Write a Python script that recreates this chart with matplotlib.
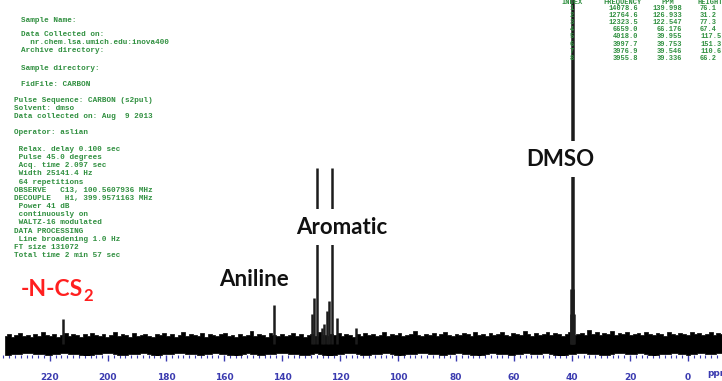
import numpy as np
import matplotlib
matplotlib.use("Agg")
import matplotlib.pyplot as plt

# 13C spectrum: peak positions (ppm) and heights (arbitrary units)
peak_ppm = [215.5, 142.8,
            129.5, 129.0, 127.9, 126.3, 125.6, 124.5, 123.9, 122.8, 121.0, 114.5,
            40.5, 40.2, 39.95, 39.75, 39.5, 39.25]
peak_height = [25, 39,
               30, 46, 176, 16, 20, 33, 43, 176, 26, 16,
               30, 55, 400, 400, 55, 30]

# baseline noise envelope, sampled across the sweep width
noise_top = [8, 10, 7, 9, 11, 8, 9, 7, 10, 8, 12, 9, 8, 10, 7, 9, 11, 8, 10, 9,
             7, 10, 8, 11, 9, 8, 10, 7, 9, 12, 8, 10, 9, 7, 11, 8, 9, 10, 8, 7,
             10, 9, 11, 8, 10, 7, 9, 12, 8, 10, 9, 8, 11, 7, 10, 9, 8, 10, 11, 8,
             9, 7, 10, 8, 9, 13, 8, 10, 9, 7, 11, 9, 8, 10, 8, 9, 11, 8, 10, 7,
             9, 10, 8, 12, 9, 8, 10, 9, 11, 8, 10, 9, 7, 10, 8, 11, 9, 10, 8, 9,
             12, 8, 10, 9, 11, 8, 9, 10, 13, 9, 8, 10, 9, 11, 8, 10, 12, 9, 8, 10,
             9, 11, 10, 8, 12, 9, 10, 8, 11, 9, 10, 12, 9, 8, 11, 10, 9, 13, 10, 8,
             11, 9, 10, 12, 9, 11, 10, 8, 10, 12, 9, 10, 11, 9, 14, 10, 12, 9, 11, 10,
             13, 9, 11, 10, 12, 9, 10, 11, 9, 12, 10, 9, 11, 10, 8, 12, 10, 9, 11, 10,
             9, 12, 10, 11, 9, 10, 12, 9, 11, 10]
noise_bottom = [-9, -10, -9, -11, -9, -10, -12, -9, -10, -9, -11, -10, -9, -10, -12, -9,
                -10, -9, -11, -10, -9, -12, -10, -9, -11, -10, -9, -10, -12, -9, -10, -11,
                -9, -10, -12, -9, -11, -10, -9, -10, -11, -9, -12, -10, -9, -11, -10, -9,
                -10, -12, -9, -10, -11, -9, -10, -12, -10, -9, -11, -10, -9, -10, -11]

tick_labels = [220, 200, 180, 160, 140, 120, 100, 80, 60, 40, 20, 0]

param_lines = ["Sample Name:", "Data Collected on:", "  nr.chem.lsa.umich.edu:inova400",
               "Archive directory:", "Sample directory:", "FidFile: CARBON"]
param_rows = [20, 34, 43, 51, 68, 84]

acq_lines = ["Pulse Sequence: CARBON (s2pul)", "Solvent: dmso", "Data collected on: Aug  9 2013",
             "", "Operator: aslian", "",
             " Relax. delay 0.100 sec", " Pulse 45.0 degrees", " Acq. time 2.097 sec",
             " Width 25141.4 Hz", " 64 repetitions", "OBSERVE   C13, 100.5607936 MHz",
             "DECOUPLE   H1, 399.9571163 MHz", " Power 41 dB", " continuously on",
             " WALTZ-16 modulated", "DATA PROCESSING", " Line broadening 1.0 Hz",
             "FT size 131072", "Total time 2 min 57 sec"]

table_index = [1, 2, 3, 4, 5, 6, 7, 8]
table_freq = ["14078.6", "12764.6", "12323.5", "6659.0", "4018.0", "3997.7", "3976.9", "3955.8"]
table_ppm = ["139.998", "126.933", "122.547", "66.176", "39.955", "39.753", "39.546", "39.336"]
table_height = ["76.1", "31.2", "77.3", "67.4", "117.5", "151.3", "110.6", "66.2"]

W, H = 722, 381
fig = plt.figure(figsize=(W / 100, H / 100), dpi=100)
fig.patch.set_facecolor("white")

ax = fig.add_axes([0, (H - 355) / H, 1, 355 / H])
ax.set_xlim(237.2, -11.7)
ax.set_ylim(-11, 344)
ax.set_facecolor("none")
for s in ax.spines.values():
    s.set_visible(False)
ax.set_yticks([])

grid = np.linspace(235.5, -11.7, len(noise_top))
grid_b = np.linspace(235.5, -11.7, len(noise_bottom))
bottom = np.interp(grid[::-1], grid_b[::-1], noise_bottom)[::-1]
ax.fill_between(grid, bottom, noise_top, step="mid", color="black", lw=0.5, zorder=2)

ax.vlines(peak_ppm, 0, peak_height, color="#1c1c1c", lw=1.8, zorder=3)

blue = "#3b3bb0"
ax.set_xticks(tick_labels)
ax.set_xticks(np.arange(-10, 237, 2), minor=True)
ax.tick_params(axis="x", which="major", direction="out", length=4, width=1,
               color=blue, labelcolor=blue, labelsize=6.5, pad=9)
ax.tick_params(axis="x", which="minor", direction="out", length=2.5, width=0.8, color=blue)
for lab in ax.get_xticklabels():
    lab.set_fontweight("bold")
fig.text(707 / W, 1 - 373 / H, "ppm", color=blue, fontsize=6.5, fontweight="bold",
         ha="left", va="center")

# peak assignments
label_font = dict(family="Lato", fontweight="bold", fontsize=16, ha="center", va="center",
                  zorder=5)
box = dict(boxstyle="square,pad=0.35", fc="white", ec="none")
ax.text(44.1, 185, "DMSO", color="#111111", bbox=box, **label_font)
ax.text(119.3, 117, "Aromatic", color="#111111", bbox=box, **label_font)
ax.text(149.5, 64, "Aniline", color="#111111", **label_font)
t = ax.text(230.0, 54, "-N-CS", color="#ff1f1f", family="Lato", fontweight="bold",
            fontsize=16.5, ha="left", va="center")
ax.annotate("2", xy=(1, 0), xycoords=t, xytext=(0.5, -2.5), textcoords="offset points",
            color="#ff1f1f", family="Lato", fontweight="bold", fontsize=12,
            ha="left", va="bottom")

# acquisition parameters
green = "#2f8f3f"
mono = dict(family="Liberation Mono", fontweight="bold", fontsize=5.5, color=green,
            va="center", ha="left")
for line, row in zip(param_lines, param_rows):
    fig.text(21 / W, 1 - row / H, line, **mono)
for i, line in enumerate(acq_lines):
    fig.text(14 / W, 1 - (100 + 8.2 * i) / H, line, **mono)

# peak table
tab = dict(family="Liberation Mono", fontweight="bold", fontsize=5.0, color=green, va="center")
fig.text(572 / W, 1 - 2 / H, "INDEX", ha="center", **tab)
fig.text(623 / W, 1 - 2 / H, "FREQUENCY", ha="center", **tab)
fig.text(668 / W, 1 - 2 / H, "PPM", ha="center", **tab)
fig.text(697 / W, 1 - 2 / H, "HEIGHT", ha="left", **tab)
for i in range(len(table_index)):
    y = 1 - (8 + 7.2 * i) / H
    fig.text(572 / W, y, str(table_index[i]), ha="center", **tab)
    fig.text(638 / W, y, table_freq[i], ha="right", **tab)
    fig.text(682 / W, y, table_ppm[i], ha="right", **tab)
    fig.text(700 / W, y, table_height[i], ha="left", **tab)

fig.savefig("out.png", dpi=100)
